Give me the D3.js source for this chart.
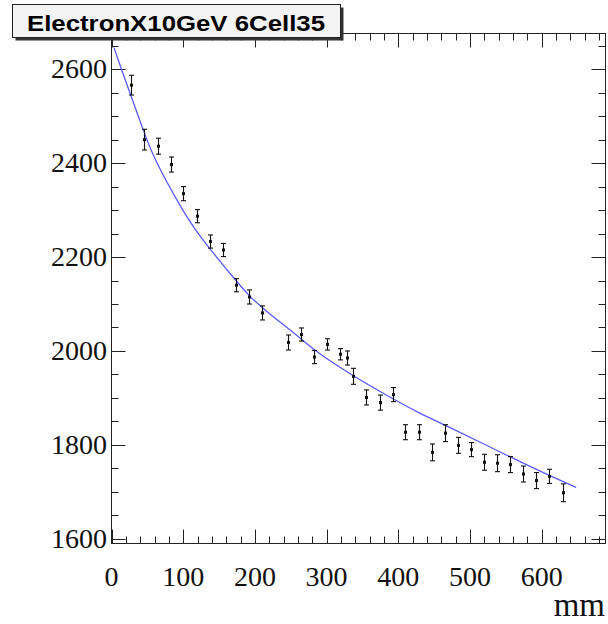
<!DOCTYPE html>
<html><head><meta charset="utf-8">
<script src="https://cdn.jsdelivr.net/npm/d3@7"></script>
<style>
html,body{margin:0;padding:0;background:#fff;}
svg{display:block;}
</style></head>
<body>
<svg id="c" width="608" height="624"></svg>
<script>
// ---- data ----
const titleText = "ElectronX10GeV 6Cell35";
const xLabel = "mm";
const xPos = [27.2, 45.7, 64.3, 82.5, 100.3, 118.7, 137.2, 154.9, 173.4, 191.8, 209.6, 246.2, 264.9, 282.5, 301.1, 319.2, 328.4, 337.3, 355.4, 373.9, 392.5, 409.7, 428.3, 446.8, 464.5, 483.0, 501.7, 519.2, 537.9, 556.0, 574.5, 592.2, 610.7, 629.2];
const yVal = [2566, 2450, 2436, 2397, 2335, 2287, 2233, 2215, 2140, 2115, 2081, 2018, 2035, 1987, 2014, 1993, 1985, 1946, 1901, 1890, 1907, 1827, 1827, 1784, 1825, 1799, 1790, 1763, 1761, 1758, 1738, 1724, 1733, 1698];
const yErr = [21, 22, 17, 16, 15, 14, 14, 14, 14, 15, 15, 16, 14, 14, 12, 12, 15, 17, 16, 16, 15, 16, 16, 18, 18, 17, 15, 17, 18, 17, 17, 17, 15, 19];
const fitX = [3.5, 14.2, 26.7, 44.3, 58.2, 76.9, 95.4, 113.9, 137.2, 173.4, 191.5, 209.6, 264.9, 282.5, 337.3, 392.5, 429.7, 464.5, 555, 610.7, 648];
const fitY = [2646, 2598, 2546, 2470, 2415, 2360, 2310, 2264, 2217, 2150, 2118, 2092, 2026, 2001, 1946, 1898, 1867, 1843, 1775, 1734.5, 1709.6];
const xMajorTicks = [0, 100, 200, 300, 400, 500, 600];
const yMajorTicks = [1600, 1800, 2000, 2200, 2400, 2600];
const xDomain = [0, 689];
const yDomain = [1590, 2676];

// ---- layout ----
const L = 111.5, R = 605.5, T = 33.5, B = 543.5;
const svg = d3.select("#c");
const x = d3.scaleLinear().domain(xDomain).range([L, R]);
const y = d3.scaleLinear().domain(yDomain).range([B, T]);

const xMinor = d3.range(0, xDomain[1] + 0.001, 20);
const yMinor = d3.range(1600, yDomain[1] + 0.001, 50);
const isXMaj = v => xMajorTicks.includes(v);
const isYMaj = v => yMajorTicks.includes(v);
const MAJ = 14, MIN = 7;
const axisCol = "#222";

// frame
svg.append("rect").attr("x", L).attr("y", T).attr("width", R - L).attr("height", B - T)
  .attr("fill", "none").attr("stroke", axisCol).attr("stroke-width", 1);

// ticks
const tg = svg.append("g").attr("stroke", axisCol).attr("stroke-width", 1);
xMinor.forEach(v => {
  const px = Math.round(x(v)) + 0.5, len = isXMaj(v) ? MAJ : MIN;
  tg.append("line").attr("x1", px).attr("x2", px).attr("y1", B).attr("y2", B - len);
  tg.append("line").attr("x1", px).attr("x2", px).attr("y1", T).attr("y2", T + len);
});
yMinor.forEach(v => {
  const py = Math.round(y(v)) + 0.5, len = isYMaj(v) ? MAJ : MIN;
  tg.append("line").attr("y1", py).attr("y2", py).attr("x1", L).attr("x2", L + len);
  tg.append("line").attr("y1", py).attr("y2", py).attr("x1", R).attr("x2", R - len);
});

// tick labels
const lab = svg.append("g").attr("font-family", "'Liberation Serif','Times New Roman',serif")
  .attr("font-size", 28).attr("fill", "#111");
xMajorTicks.forEach(v => {
  lab.append("text").attr("x", x(v)).attr("y", 586).attr("text-anchor", "middle").text(v);
});
yMajorTicks.forEach(v => {
  lab.append("text").attr("x", 107).attr("y", y(v) + 9).attr("text-anchor", "end").text(v);
});
svg.append("text").attr("x", 605).attr("y", 616).attr("text-anchor", "end")
  .attr("font-family", "'Liberation Serif','Times New Roman',serif").attr("font-size", 33)
  .attr("fill", "#111").text(xLabel);

// fit curve
const fit = fitX.map((d, i) => [d, fitY[i]]);
svg.append("path").datum(fit)
  .attr("d", d3.line().x(d => x(d[0])).y(d => y(d[1])).curve(d3.curveBasis))
  .attr("fill", "none").attr("stroke", "#5a5aff").attr("stroke-width", 1.3);

// data points with error bars
const pts = xPos.map((d, i) => ({ x: d, y: yVal[i], e: yErr[i] }));
const pg = svg.append("g").attr("stroke", "#111").attr("stroke-width", 1.1);
pts.forEach(p => {
  const px = Math.round(x(p.x)) + 0.5;
  const y1 = y(p.y + p.e), y2 = y(p.y - p.e);
  pg.append("line").attr("x1", px).attr("x2", px).attr("y1", y1).attr("y2", y2);
  pg.append("line").attr("x1", px - 2.5).attr("x2", px + 2.5).attr("y1", y1).attr("y2", y1);
  pg.append("line").attr("x1", px - 2.5).attr("x2", px + 2.5).attr("y1", y2).attr("y2", y2);
  svg.append("rect").attr("x", px - 1.5).attr("y", y(p.y) - 1.5).attr("width", 3).attr("height", 3).attr("fill", "#111");
});

// title box
svg.append("rect").attr("x", 15.5).attr("y", 7.5).attr("width", 328).attr("height", 33).attr("fill", "#333");
svg.append("rect").attr("x", 12.5).attr("y", 4.5).attr("width", 328).attr("height", 33)
  .attr("fill", "#f3f3f3").attr("stroke", "#222").attr("stroke-width", 1);
svg.append("text").attr("x", 27).attr("y", 30.5)
  .attr("font-family", "'Liberation Sans',Arial,sans-serif").attr("font-weight", "bold")
  .attr("font-size", 22).attr("textLength", 298).attr("lengthAdjust", "spacingAndGlyphs")
  .attr("fill", "#000").text(titleText);
</script>
</body></html>
